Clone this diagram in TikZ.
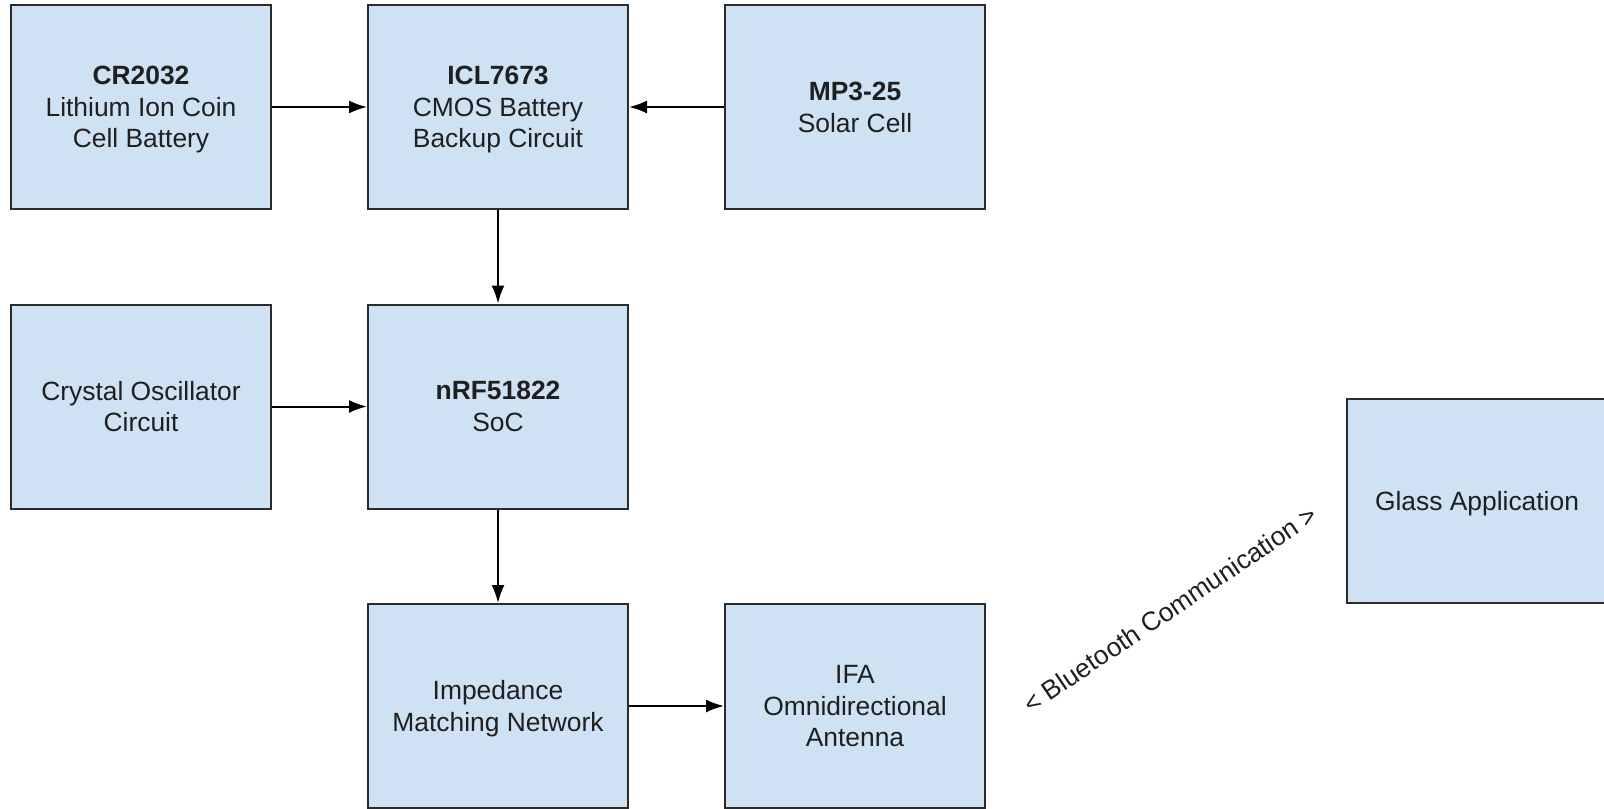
\documentclass[tikz,border=0pt]{standalone}
\usepackage{fontspec}
\setmainfont{Liberation Sans}
\usetikzlibrary{arrows.meta,positioning}
\definecolor{edge}{HTML}{2B2B2B}
\definecolor{boxfill}{HTML}{CFE2F3}
\definecolor{txt}{HTML}{1F1F1F}

\begin{document}
\begin{tikzpicture}[>={Latex[length=9pt,width=6.5pt]},node distance=46.75pt and 47.5pt,
 block/.style={draw=edge,line width=1pt,fill=boxfill,minimum width=130pt,minimum height=102pt,inner sep=0pt,align=center,text depth=0pt,text=txt,font=\fontsize{13.2}{15.8}\selectfont},
 link/.style={->,line width=1pt,color=black}]
\useasboundingbox (0,0) rectangle (802pt,-404pt);
\node[block,anchor=north west] (cr) at (5pt,-2pt) {\textbf{CR2032}\\Lithium Ion Coin\\Cell Battery};
\node[block,right=of cr] (icl) {\textbf{ICL7673}\\CMOS Battery\\Backup Circuit};
\node[block,right=of icl] (mp) {\textbf{MP3-25}\\Solar Cell};
\node[block,below=of cr] (xo) {Crystal Oscillator\\Circuit};
\node[block,below=of icl] (nrf) {\textbf{nRF51822}\\SoC};
\node[block,below=of nrf] (imp) {Impedance\\Matching Network};
\node[block,right=of imp] (ifa) {IFA\\Omnidirectional\\Antenna};
\node[block,right=180pt of ifa,yshift=102.75pt] (glass) {Glass Application};
\draw[link] (cr)--(icl);
\draw[link] (mp)--(icl);
\draw[link] (icl)--(nrf);
\draw[link] (xo)--(nrf);
\draw[link] (nrf)--(imp);
\draw[link] (imp)--(ifa);
\node[rotate=34,text=txt,font=\fontsize{13.2}{15.8}\selectfont] (bt) at ([xshift=92pt,yshift=48.5pt]ifa.east) {< Bluetooth Communication >};
\end{tikzpicture}
\end{document}
